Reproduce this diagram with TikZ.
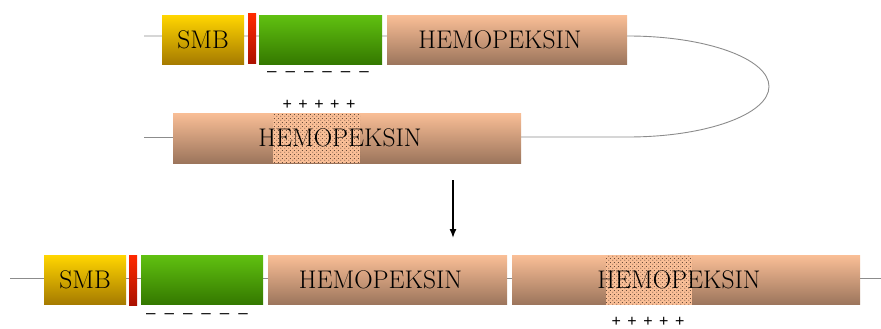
\documentclass[tikz,border=0pt]{standalone}
\usepackage{fontspec}
\newfontfamily\signfont{Liberation Sans}
\usetikzlibrary{patterns.meta,arrows.meta}
\definecolor{smbtop}{HTML}{FFD500}
\definecolor{smbbot}{HTML}{A57A00}
\definecolor{redtop}{HTML}{FF2A00}
\definecolor{redbot}{HTML}{AA1000}
\definecolor{greentop}{HTML}{60C010}
\definecolor{greenbot}{HTML}{347800}
\definecolor{peachtop}{HTML}{F9BE96}
\definecolor{peachbot}{HTML}{9C755C}
\definecolor{linegray}{HTML}{8C8C8C}
\definecolor{dotcol}{HTML}{4A3528}
\tikzdeclarepattern{
  name=stipple, type=uncolored,
  bounding box={(0pt,0pt) and (4pt,4pt)},
  tile size={(4pt,4pt)},
  code={\fill (1pt,1pt) circle (0.6pt); \fill (3pt,3pt) circle (0.6pt);}
}
\tikzset{
  box/.style={rectangle, inner sep=0pt, outer sep=0pt, draw=none, font=\fontsize{25.5}{30}\selectfont},
  smbbox/.style={box, top color=smbtop, bottom color=smbbot, minimum width=82pt, minimum height=49pt},
  redbox/.style={box, top color=redtop, bottom color=redbot, minimum width=8pt, minimum height=50pt},
  greenbox/.style={box, top color=greentop, bottom color=greenbot, minimum height=49pt},
  hembox/.style={box, top color=peachtop, bottom color=peachbot, minimum height=49pt},
  lbl/.style={inner sep=0pt, font=\fontsize{25.5}{30}\selectfont},
  conn/.style={draw=linegray, line width=0.9pt},
  minus/.style={inner sep=0pt, font=\signfont\fontsize{17}{20}\selectfont},
  plus/.style={inner sep=0pt, font=\signfont\fontsize{16}{19}\selectfont},
  dotsarea/.style={pattern=stipple, pattern color=dotcol},
}
\newcommand{\hemtext}{HEMOPEKSIN\kern14pt\null}
\newcommand{\dashrow}{–\hspace{9pt}–\hspace{9pt}–\hspace{9pt}–\hspace{9pt}–\hspace{9pt}–}
\newcommand{\plusrow}{+\hspace{6.5pt}+\hspace{6.5pt}+\hspace{6.5pt}+\hspace{6.5pt}+}
\begin{document}
\begin{tikzpicture}[x=1pt,y=-1pt]
\useasboundingbox (0,0) rectangle (881,329);
% backbone lines
\coordinate (lA) at (144,36);
\coordinate (rA) at (628,36);
\coordinate (lB) at (144,137);
\coordinate (rB) at (521,137);
\coordinate (lC) at (10,278);
\coordinate (rC) at (881,278);
\draw[conn] (lA) -- (rA) arc[start angle=90, end angle=-90, x radius=141pt, y radius=50.5pt] -- (rB);
\draw[conn] (lB) -- (173,137);
\draw[conn] (lC) -- (rC);
% top row
\node[smbbox] (smbA) at (203,40) {SMB};
\node[redbox] (redA) at (252,39) {};
\node[greenbox, minimum width=123pt] (grA) at (320.5,40) {};
\node[hembox, minimum width=240pt] (hemA) at (507,40) {\hemtext};
\node[minus] (minA) at (318,74) {\dashrow};
% second row
\node[hembox, minimum width=348pt, minimum height=50pt] (hemB) at (347,138) {};
\fill[peachtop] (273,113) rectangle (360,163);
\fill[dotsarea] (273,113) rectangle (360,163);
\node[lbl] (labB) at (hemB.center) {\hemtext};
\node[plus] (plusB) at (319,105) {\plusrow};
% arrow
\coordinate (arS) at (453,180);
\coordinate (arE) at (453,238);
\draw[line width=1.4pt, -{Latex[length=9pt,width=7pt]}] (arS) -- (arE);
% bottom row
\node[smbbox] (smbC) at (85,280) {SMB};
\node[redbox] (redC) at (133,280) {};
\node[greenbox, minimum width=122pt] (grC) at (202,280) {};
\node[hembox, minimum width=239pt] (hemC) at (387.5,280) {\hemtext};
\node[hembox, minimum width=348pt] (hemD) at (686,280) {};
\fill[peachtop] (606,255) rectangle (692,305);
\fill[dotsarea] (606,255) rectangle (692,305);
\node[lbl] (labD) at (hemD.center) {\hemtext};
\node[minus] (minC) at (197,316) {\dashrow};
\node[plus] (plusC) at (648,322) {\plusrow};
\end{tikzpicture}
\end{document}
